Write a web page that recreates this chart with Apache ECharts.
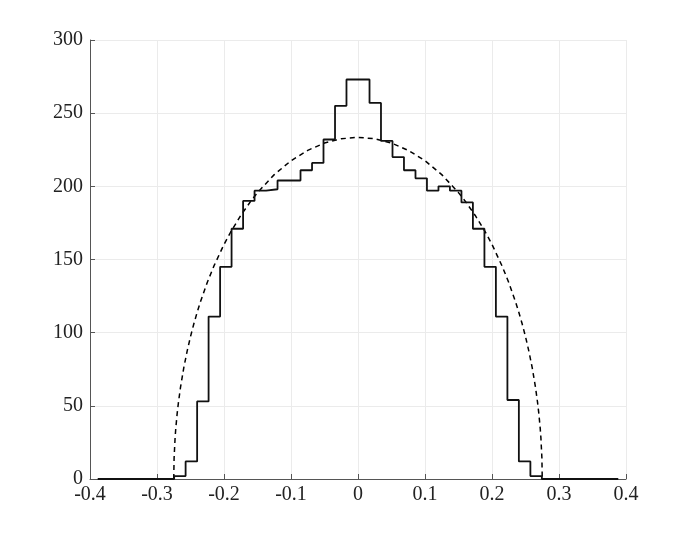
<!DOCTYPE html>
<html>
<head>
<meta charset="utf-8">
<script src="https://cdn.jsdelivr.net/npm/echarts@6/dist/echarts.min.js"></script>
<style>html,body{margin:0;padding:0;background:#fff;}#c{width:692px;height:538px;}</style>
</head>
<body>
<div id="c"></div>
<script>
// Histogram bin edges (x) and counts per bin
const binEdges = [-0.3885, -0.2744, -0.2573, -0.2401, -0.2230, -0.2058, -0.1887, -0.1715, -0.1544,
  -0.1372, -0.1201, -0.1029, -0.0858, -0.0686, -0.0515, -0.0343, -0.0172, 0,
  0.0172, 0.0343, 0.0515, 0.0686, 0.0858, 0.1029, 0.1201, 0.1372, 0.1544, 0.1715,
  0.1887, 0.2058, 0.2230, 0.2401, 0.2573, 0.2744, 0.3885];
const binCounts = [0, 2, 12, 53, 111, 145, 171, 190, 197, 198, 204, 204, 211, 216, 232, 255, 273,
  273, 257, 231, 220, 211, 205.5, 197, 200, 197, 189, 171, 145, 111, 54, 12, 2, 0];

// Dashed reference curve
const curveX = [-0.275, -0.2745, -0.273, -0.272, -0.27, -0.268, -0.265, -0.26, -0.255, -0.25, -0.245,
  -0.24, -0.235, -0.225, -0.215, -0.2, -0.19, -0.175, -0.16, -0.15, -0.125, -0.1, -0.075, -0.05, -0.025,
  0, 0.025, 0.05, 0.075, 0.1, 0.125, 0.15, 0.16, 0.175, 0.19, 0.2, 0.215, 0.225, 0.235, 0.24, 0.245,
  0.25, 0.255, 0.26, 0.265, 0.268, 0.27, 0.272, 0.273, 0.2745, 0.275];
const curveY = [0, 14.1, 28.1, 34.4, 44.3, 52.3, 62.4, 76.1, 87.4, 97.3, 106.1,
  114.0, 121.3, 134.3, 145.6, 160.3, 168.8, 180.1, 189.9, 195.7, 208.0, 217.5, 224.6, 229.6, 232.5,
  233.5, 232.5, 229.6, 224.6, 217.5, 208.0, 195.7, 189.9, 180.1, 168.8, 160.3, 145.6, 134.3, 121.3, 114.0, 106.1,
  97.3, 87.4, 76.1, 62.4, 52.3, 44.3, 34.4, 28.1, 14.1, 0];

const xTickLabels = ['-0.4', '-0.3', '-0.2', '-0.1', '0', '0.1', '0.2', '0.3', '0.4'];
const yTickLabels = ['0', '50', '100', '150', '200', '250', '300'];

const histData = binCounts.map((c, i) => [binEdges[i], c]);
histData.push([binEdges[binEdges.length - 1], binCounts[binCounts.length - 1]]);
const curveData = curveX.map((x, i) => [x, curveY[i]]);

const font = '"Liberation Serif", "DejaVu Serif", serif';
const chart = echarts.init(document.getElementById('c'), null, {renderer: 'canvas'});
chart.setOption({
  animation: false,
  backgroundColor: '#fff',
  grid: {left: 90, right: 66, top: 40, bottom: 59, containLabel: false},
  xAxis: {
    type: 'value', min: -0.4, max: 0.4, interval: 0.1,
    axisLine: {show: true, onZero: false, lineStyle: {color: '#555', width: 1}},
    axisTick: {show: true, inside: true, length: 5, lineStyle: {color: '#555'}},
    axisLabel: {
      color: '#222', fontFamily: font, fontSize: 20, margin: 6,
      formatter: v => xTickLabels[Math.round((v + 0.4) * 10)]
    },
    splitLine: {show: true, lineStyle: {color: '#ebebeb', width: 1}}
  },
  yAxis: {
    type: 'value', min: 0, max: 300, interval: 50,
    axisLine: {show: true, onZero: false, lineStyle: {color: '#555', width: 1}},
    axisTick: {show: true, inside: true, length: 5, lineStyle: {color: '#555'}},
    axisLabel: {
      color: '#222', fontFamily: font, fontSize: 20, margin: 7,
      formatter: v => yTickLabels[Math.round(v / 50)]
    },
    splitLine: {show: true, lineStyle: {color: '#ebebeb', width: 1}}
  },
  series: [
    {
      type: 'line', data: curveData, symbol: 'none', silent: true,
      lineStyle: {color: '#000', width: 1.5, type: [5, 4]}, z: 3
    },
    {
      type: 'line', data: histData, step: 'end', symbol: 'none', silent: true,
      lineStyle: {color: '#111', width: 1.8}, z: 4
    }
  ]
});
</script>
</body>
</html>
